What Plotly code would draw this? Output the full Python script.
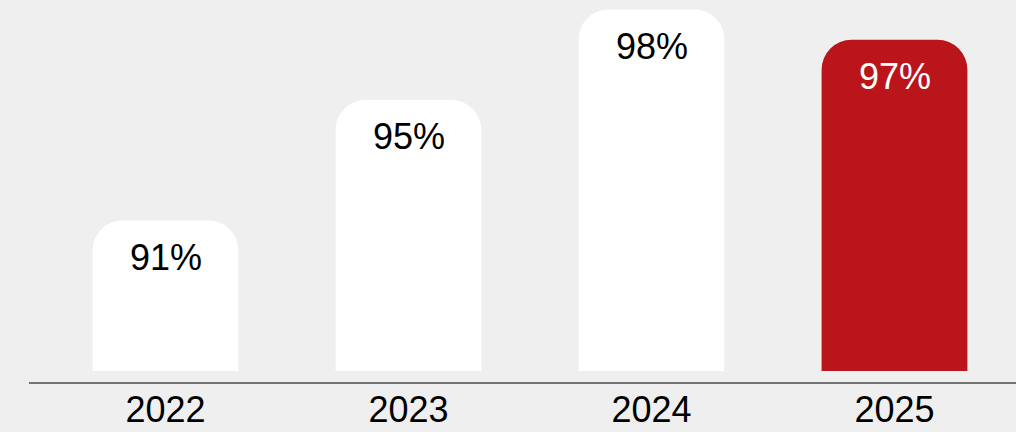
import plotly.graph_objects as go

# Share by year, in percent
years = ["2022", "2023", "2024", "2025"]
shares = [91, 95, 98, 97]
value_labels = ["91%", "95%", "98%", "97%"]

bar_colors = ["#ffffff", "#ffffff", "#ffffff", "#bb151c"]
label_colors = ["#000000", "#000000", "#000000", "#ffffff"]
FONT = "Liberation Sans, Arial, Helvetica, sans-serif"

PLOT_W = 972
PLOT_H = 370.7

fig = go.Figure(
    go.Bar(
        x=years,
        y=shares,
        marker=dict(color=bar_colors, line=dict(width=0)),
        width=0.6,
        hoverinfo="skip",
    )
)

for i, (v, txt, col) in enumerate(zip(shares, value_labels, label_colors)):
    fig.add_annotation(
        x=i, y=v, xref="x", yref="y",
        text=txt, showarrow=False,
        yanchor="middle", yshift=-37,
        font=dict(family=FONT, size=36, color=col),
    )

# baseline rule below the bars
fig.add_shape(
    type="line", xref="paper", yref="paper",
    x0=-15 / PLOT_W, x1=1, y0=-12 / PLOT_H, y1=-12 / PLOT_H,
    line=dict(color="#737373", width=2),
)

fig.update_layout(
    width=1016, height=432,
    margin=dict(l=44, r=0, t=0, b=432 - PLOT_H),
    paper_bgcolor="#efefef",
    plot_bgcolor="#efefef",
    barcornerradius=30,
    showlegend=False,
    font=dict(family=FONT, color="#000000"),
)
fig.update_xaxes(
    type="category",
    range=[-0.5, 3.5],
    showline=False, showgrid=False, zeroline=False, ticks="",
    ticklabelstandoff=14,
    tickfont=dict(family=FONT, size=36, color="#000000"),
    fixedrange=True,
)
fig.update_yaxes(
    range=[86, 86 + PLOT_H / 30.1],
    visible=False, showgrid=False, zeroline=False,
    fixedrange=True,
)

fig.write_html("out.html", config={"displayModeBar": False})
